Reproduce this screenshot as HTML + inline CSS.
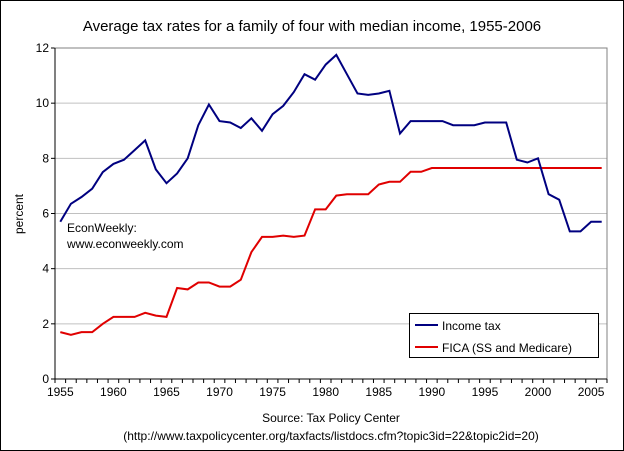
<!DOCTYPE html><html><head><style>body{margin:0;background:#fff}svg{display:block}text{font-family:"Liberation Sans",sans-serif;font-size:12px;fill:#000}</style></head><body>
<svg id="s" width="624" height="451" xmlns="http://www.w3.org/2000/svg">
<rect x="0.5" y="0.5" width="623" height="450" fill="#fff" stroke="#000"/>
<text x="312" y="31" text-anchor="middle" style="font-size:15px">Average tax rates for a family of four with median income, 1955-2006</text>
<g id="g"></g>
<text x="67" y="232">EconWeekly:</text>
<text x="67" y="248">www.econweekly.com</text>
<text transform="translate(23,214) rotate(-90)" text-anchor="middle">percent</text>
<text x="331" y="422" text-anchor="middle">Source: Tax Policy Center</text>
<text x="331" y="440" text-anchor="middle">(http://www.taxpolicycenter.org/taxfacts/listdocs.cfm?topic3id=22&amp;topic2id=20)</text>
<rect x="409.5" y="313.5" width="189" height="44" fill="#fff" stroke="#000"/>
<line x1="415" y1="325" x2="438" y2="325" stroke="#000080" stroke-width="2"/>
<line x1="415" y1="347" x2="438" y2="347" stroke="#e00000" stroke-width="2"/>
<text x="442" y="330">Income tax</text>
<text x="442" y="352">FICA (SS and Medicare)</text>
</svg>
<script>
var g=document.getElementById('g'),h='';
var L=55,R=607,T=48,B=379,w=(R-L)/52,u=(B-T)/12;
function Y(v){return B-v*u}
for(var i=0;i<=12;i+=2){var y=Y(i);if(i>0)h+='<line x1="'+L+'" y1="'+y+'" x2="'+R+'" y2="'+y+'" stroke="#c0c0c0"/>';h+='<text x="'+(L-6)+'" y="'+(y+4)+'" text-anchor="end">'+i+'</text><line x1="'+(L-4)+'" y1="'+y+'" x2="'+L+'" y2="'+y+'" stroke="#000"/>';}
h+='<rect x="'+L+'" y="'+T+'" width="'+(R-L)+'" height="'+(B-T)+'" fill="none" stroke="#808080"/>';
h+='<line x1="'+L+'" y1="'+T+'" x2="'+L+'" y2="'+B+'" stroke="#000"/><line x1="'+L+'" y1="'+B+'" x2="'+R+'" y2="'+B+'" stroke="#000"/>';
for(var i=0;i<=52;i++){var x=L+i*w;h+='<line x1="'+x+'" y1="'+B+'" x2="'+x+'" y2="'+(B+4)+'" stroke="#000"/>';}
for(var yr=1955;yr<=2005;yr+=5){var x=L+(yr-1955+0.5)*w;h+='<text x="'+x+'" y="'+(B+17)+'" text-anchor="middle">'+yr+'</text>';}
var inc=[5.7,6.35,6.6,6.9,7.5,7.8,7.95,8.3,8.65,7.6,7.1,7.45,8.0,9.2,9.95,9.35,9.3,9.1,9.45,9.0,9.6,9.9,10.4,11.05,10.85,11.4,11.75,11.05,10.35,10.3,10.35,10.45,8.9,9.35,9.35,9.35,9.35,9.2,9.2,9.2,9.3,9.3,9.3,7.95,7.85,8.0,6.7,6.5,5.35,5.35,5.7,5.7];
var fi=[1.7,1.6,1.7,1.7,2.0,2.25,2.25,2.25,2.4,2.3,2.25,3.3,3.25,3.5,3.5,3.35,3.35,3.6,4.6,5.15,5.15,5.2,5.15,5.2,6.15,6.15,6.65,6.7,6.7,6.7,7.05,7.15,7.15,7.51,7.51,7.65];
while(fi.length<52)fi.push(7.65);
function P(a,c){return '<polyline fill="none" stroke="'+c+'" stroke-width="2" points="'+a.map(function(v,i){return (L+(i+0.5)*w).toFixed(1)+','+Y(v).toFixed(1)}).join(' ')+'"/>'}
h+=P(fi,'#e00000')+P(inc,'#000080');
g.innerHTML=h;
</script>
</body></html>
